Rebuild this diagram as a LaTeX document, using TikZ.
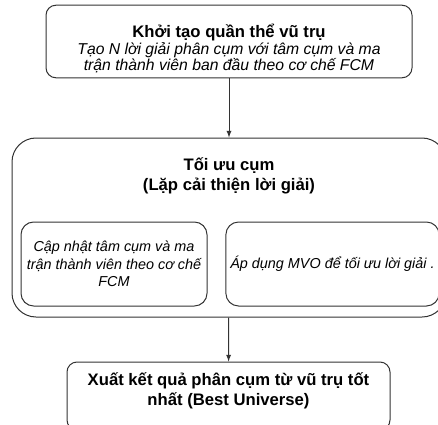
\documentclass[tikz,border=0pt]{standalone}
\usepackage{fontspec}
\setmainfont{Liberation Sans}
\usetikzlibrary{arrows}

\begin{document}
\begin{tikzpicture}[x=0.75pt,y=-0.75pt,
	box/.style={draw=black!80, line width=0.75pt, align=center},
	bf/.style={font=\fontsize{12.5}{15}\selectfont\bfseries},
	it/.style={font=\fontsize{10.8}{13}\selectfont\itshape}]
\clip (0,0) rectangle (438,424);

\node[box, rounded corners=7.5pt, minimum width=274.5pt, minimum height=53.25pt,
	font=\fontsize{11.8}{12.5}\selectfont] (init) at (229,41.5)
	{{\fontsize{12.5}{15}\selectfont\bfseries\rule{0pt}{21pt}Khởi tạo quần thể vũ trụ}\\
	\itshape Tạo N lời giải phân cụm với tâm cụm và ma\\
	\itshape trận thành viên ban đầu theo cơ chế FCM};

\node[box, rounded corners=18pt, minimum width=325.5pt, minimum height=134.25pt] (opt) at (229,227.5) {};
\node[bf, align=center] (optT) at (229,176) {Tối ưu cụm\\(Lặp cải thiện lời giải)};

\node[box, it, rounded corners=9.5pt, minimum width=139.5pt, minimum height=63pt] (upd) at (114,264)
	{Cập nhật tâm cụm và ma\\trận thành viên theo cơ chế\\FCM};
\node[box, it, rounded corners=9.5pt, minimum width=155.25pt, minimum height=63pt] (mvo) at (332.5,264)
	{Áp dụng MVO để tối ưu lời giải .};

\node[box, bf, rounded corners=7.5pt, minimum width=242.25pt, minimum height=51pt, text depth=11pt] (res) at (228.5,396)
	{Xuất kết quả phân cụm từ vũ trụ tốt\\nhất (Best Universe)};

\draw [->, >=latex, draw=black!80, line width=0.75pt] (init) -- (opt);
\draw [->, >=latex, draw=black!80, line width=0.75pt] (opt) -- (res);

\end{tikzpicture}
\end{document}
